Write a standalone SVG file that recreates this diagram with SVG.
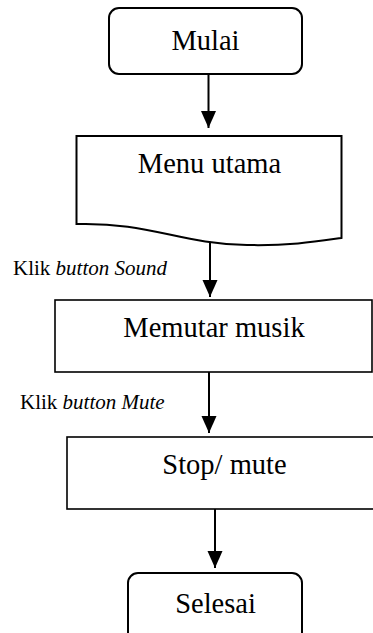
<svg xmlns="http://www.w3.org/2000/svg" width="373" height="633" viewBox="0 0 373 633">
<defs>
<style>
.node{fill:#fff;stroke:#000;stroke-width:2}
.box{fill:#fff;stroke:#000;stroke-width:1.6}
.t{font-size:28.5px;fill:#000;text-anchor:middle}
.lbl{font-size:21px;fill:#000}
.conn{stroke:#000;stroke-width:2;fill:none;marker-end:url(#arr)}
</style>
<marker id="arr" markerUnits="userSpaceOnUse" markerWidth="18" markerHeight="16" refX="17" refY="7.5" orient="auto">
<path d="M0,0 L17,7.5 L0,15 Z" fill="#000"/>
</marker>
</defs>
<rect width="373" height="633" fill="#fff"/>
<g font-family="Liberation Serif, Times New Roman, serif">
<g id="connectors">
<line class="conn" x1="208.5" y1="74" x2="208.5" y2="128"/>
<line class="conn" x1="210" y1="243" x2="210" y2="297"/>
<line class="conn" x1="209" y1="372" x2="209" y2="433"/>
<line class="conn" x1="215" y1="509" x2="215" y2="568"/>
<text class="lbl" x="13" y="275">Klik <tspan font-style="italic">button Sound</tspan></text>
<text class="lbl" x="20" y="409">Klik <tspan font-style="italic">button Mute</tspan></text>
</g>
<g id="mulai">
<rect class="node" x="109" y="8" width="193" height="66" rx="10"/>
<text class="t" x="205.5" y="50">Mulai</text>
</g>
<g id="menu-utama">
<path class="node" d="M76.5,136 L341.5,136 L341.5,238 C320,241 290,246 247,245 C180,244 150,222 76.5,224 Z"/>
<text class="t" x="209.5" y="173">Menu utama</text>
</g>
<g id="memutar-musik">
<rect class="box" x="55" y="300" width="317" height="72"/>
<text class="t" x="214" y="337">Memutar musik</text>
</g>
<g id="stop-mute">
<rect class="box" x="67" y="437" width="310" height="72"/>
<text class="t" x="224.5" y="474">Stop/ mute</text>
</g>
<g id="selesai">
<rect class="node" x="128" y="573" width="174" height="70" rx="10"/>
<text class="t" x="215.5" y="613">Selesai</text>
</g>
</g>
</svg>
